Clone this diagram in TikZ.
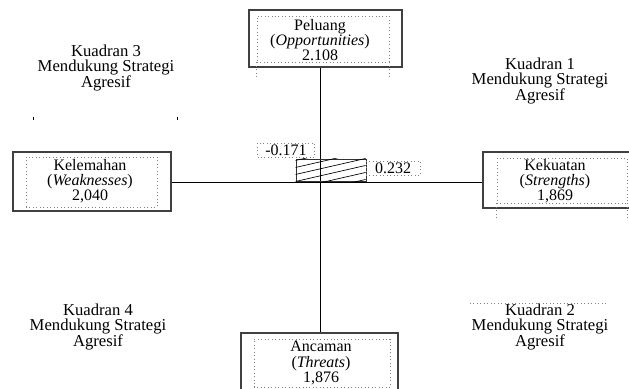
\documentclass[tikz,border=0pt]{standalone}
\usepackage{fontspec}
\setmainfont{Liberation Serif}
\usetikzlibrary{calc}

\begin{document}
\begin{tikzpicture}[x=0.75pt, y=-0.75pt,
  kotak/.style={draw=black!75, line width=0.9pt, inner sep=0pt},
  titik/.style={draw=black!50, dotted, line width=0.6pt, inner sep=0pt},
  teks/.style={align=center, font=\fontsize{12}{11.3}\selectfont, inner sep=0pt},
  kuadran/.style={align=center, font=\fontsize{12.5}{11.6}\selectfont, inner sep=0pt},
  nilai/.style={draw=black!50, dotted, line width=0.6pt, inner sep=0pt, font=\fontsize{12}{12}\selectfont}]
\useasboundingbox (0,0) rectangle (629,389);

% Kotak Peluang (atas)
\node[kotak, minimum width=114.75pt, minimum height=42.75pt] (peluang-luar) at (325.5,38.5) {};
\node[titik, minimum width=99pt, minimum height=34.5pt] (peluang-dalam) at (323,39) {};
\draw[titik] (peluang-dalam.south west) -- ++(0,15);
\draw[titik] (peluang-dalam.south east) -- ++(0,15);
\node[teks] (peluang) at (320,40) {Peluang\\(\textit{Opportunities})\\2.108};

% Kotak Kelemahan (kiri)
\node[kotak, minimum width=118.5pt, minimum height=44.25pt] (kelemahan-luar) at (92,181.5) {};
\node[titik, minimum width=98.25pt, minimum height=37.5pt] (kelemahan-dalam) at (91.5,182) {};
\node[teks] (kelemahan) at (90,181) {Kelemahan\\(\textit{Weaknesses})\\2,040};

% Kotak Kekuatan (kanan)
\node[kotak, minimum width=117.75pt, minimum height=42pt] (kekuatan-luar) at (561.5,180) {};
\node[titik, minimum width=97.5pt, minimum height=33.75pt] (kekuatan-dalam) at (562,180.5) {};
\draw[titik] (kekuatan-dalam.south west) -- ++(0,17);
\draw[titik] (kekuatan-dalam.south east) -- ++(0,17);
\node[teks] (kekuatan) at (555,181) {Kekuatan\\(\textit{Strengths})\\1,869};

% Kotak Ancaman (bawah)
\node[kotak, minimum width=117.75pt, minimum height=50.25pt] (ancaman-luar) at (319.5,366.5) {};
\node[titik, minimum width=102pt, minimum height=36pt] (ancaman-dalam) at (322,363) {};
\node[teks] (ancaman) at (321,363) {Ancaman\\(\textit{Threats})\\1,876};

% Sumbu
\coordinate (pusat) at (320.5,182);
\draw[line width=0.75pt] (pusat |- peluang-luar.south) -- (pusat |- ancaman-luar.north);
\draw[line width=0.75pt] (kelemahan-luar.east |- pusat) -- (kekuatan-luar.west |- pusat);

% Batang arsiran
\node[draw=black!80, line width=0.7pt, minimum width=52.5pt, minimum height=16.5pt, inner sep=0pt] (batang) at (331,170) {};
\begin{scope}
\clip (batang.south west) rectangle (batang.north east);
\foreach \k in {-3,...,5}
  \draw[line width=0.5pt] ($(batang.south west)+(0,-7*\k)$) -- ++(70,-16);
\end{scope}
\node[nilai, minimum width=42.75pt, minimum height=10.5pt] (nilai-kiri) at (286,150) {-0.171};
\node[nilai, minimum width=40.5pt, minimum height=10.5pt] (nilai-kanan) at (393,168) {0.232};

% Kuadran
\node[kuadran] (kuadran3) at (106,68) {Kuadran 3\\Mendukung Strategi\\Agresif};
\node[kuadran] (kuadran1) at (540,81) {Kuadran 1\\Mendukung Strategi\\Agresif};
\node[kuadran] (kuadran4) at (98,327) {Kuadran 4\\Mendukung Strategi\\Agresif};
\node[kuadran] (kuadran2) at (540,327) {Kuadran 2\\Mendukung Strategi\\Agresif};
\draw[line width=0.4pt] (33,117) -- (33,120);
\draw[line width=0.4pt] (177,117) -- (177,120);
\draw[titik] (470,303) -- (608,303);
\end{tikzpicture}
\end{document}
